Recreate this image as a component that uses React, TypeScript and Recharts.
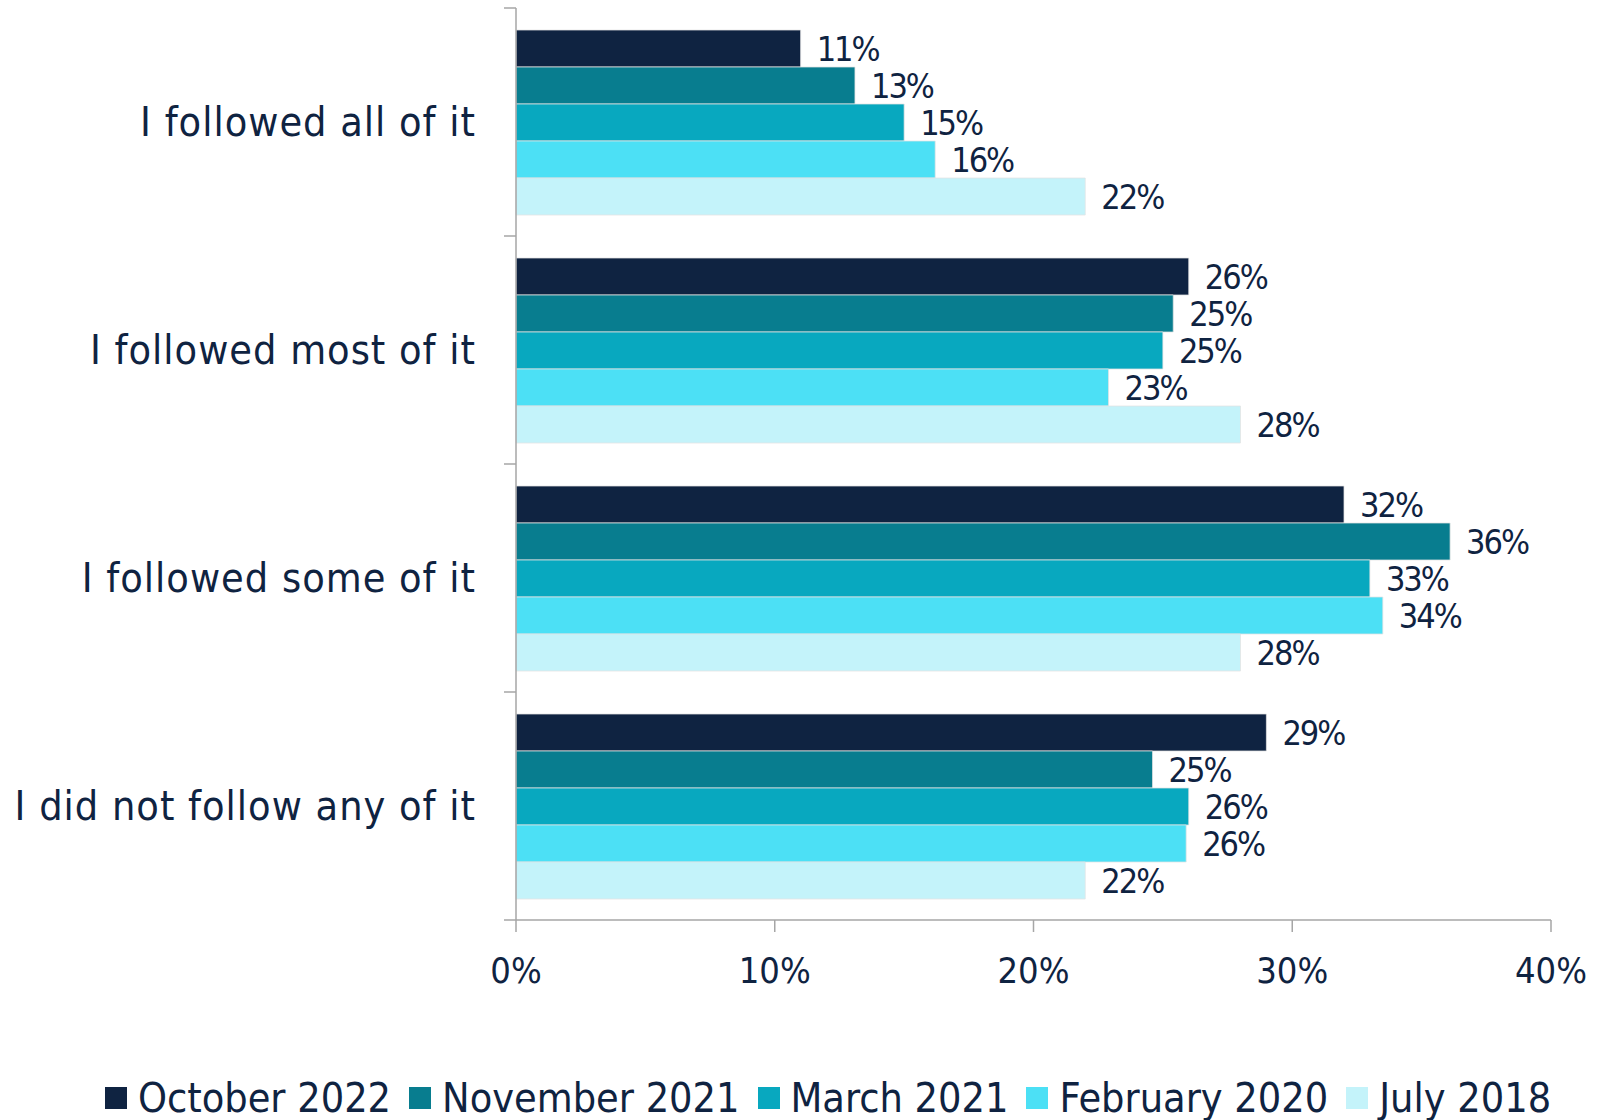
import React from 'react';
import { BarChart, Bar, XAxis, YAxis, LabelList, Legend } from 'recharts';

const categories = [
  'I followed all of it',
  'I followed most of it',
  'I followed some of it',
  'I did not follow any of it',
];
const seriesNames = ['October 2022', 'November 2021', 'March 2021', 'February 2020', 'July 2018'];
const oct2022 = [11, 26, 32, 29];
const nov2021 = [13.1, 25.4, 36.1, 24.6];
const mar2021 = [15, 25, 33, 26];
const feb2020 = [16.2, 22.9, 33.5, 25.9];
const jul2018 = [22, 28, 28, 22];
const xTicks = [0, 10, 20, 30, 40];

const colors = ['#0F2341', '#087D8F', '#08A8BF', '#4CE0F5', '#C4F3FA'];
const TEXT = '#0F2341';
const AXIS = '#A6A6A6';
const FONT = '"DejaVu Sans Condensed", "DejaVu Sans", Lato, sans-serif';

const W = 1602;
const H = 1120;
const MARGIN = { top: 8, right: 51, left: 0, bottom: 0 };
const LEGEND_H = 60;
const XAXIS_H = 140;
const YAXIS_W = 516;
const Y_TICK_MARGIN = 40;

const series = [oct2022, nov2021, mar2021, feb2020, jul2018];
const data = categories.map((name, i) => {
  const row: Record<string, any> = { name };
  seriesNames.forEach((s, j) => {
    row[s] = series[j][i];
  });
  return row;
});

const plotH = H - MARGIN.top - MARGIN.bottom - LEGEND_H - XAXIS_H;
const bandHalf = plotH / categories.length / 2;

const YTick = (props: any) => {
  const { x, y, payload, index, visibleTicksCount } = props;
  const ax = x + Y_TICK_MARGIN;
  return (
    <g>
      <text
        x={x}
        y={y}
        textAnchor="end"
        dominantBaseline="central"
        fill={TEXT}
        fontSize={41}
        letterSpacing={1}
        fontFamily={FONT}
      >
        {payload.value}
      </text>
      <line x1={ax - 12} x2={ax} y1={y - bandHalf} y2={y - bandHalf} stroke={AXIS} strokeWidth={1.5} />
      {index === visibleTicksCount - 1 && (
        <line x1={ax - 12} x2={ax} y1={y + bandHalf} y2={y + bandHalf} stroke={AXIS} strokeWidth={1.5} />
      )}
    </g>
  );
};

const LegendContent = () => (
  <div
    style={{
      display: 'flex',
      justifyContent: 'center',
      alignItems: 'center',
      paddingLeft: 105,
      paddingTop: 16,
      height: LEGEND_H - 16,
      fontFamily: FONT,
      fontSize: 41,
      color: TEXT,
      whiteSpace: 'nowrap',
    }}
  >
    {seriesNames.map((n, i) => (
      <span key={n} style={{ display: 'flex', alignItems: 'center', marginRight: i < seriesNames.length - 1 ? 18 : 0 }}>
        <span style={{ display: 'inline-block', width: 22, height: 22, background: colors[i], marginRight: 11 }} />
        {n}
      </span>
    ))}
  </div>
);

export default function App() {
  return (
    <div style={{ position: 'absolute', left: 0, top: 0, width: W, height: H, background: '#fff' }}>
      <BarChart
        width={W}
        height={H}
        data={data}
        layout="vertical"
        margin={MARGIN}
        barSize={37}
        barGap={0}
      >
        <XAxis
          type="number"
          domain={[0, 40]}
          ticks={xTicks}
          tickFormatter={(v: number) => `${v}%`}
          height={XAXIS_H}
          tickSize={12}
          tickMargin={25}
          stroke={AXIS}
          strokeWidth={1.5}
          tick={{ fill: TEXT, fontSize: 36, fontFamily: FONT }}
          interval={0}
        />
        <YAxis
          type="category"
          dataKey="name"
          width={YAXIS_W}
          tickLine={false}
          tickSize={0}
          tickMargin={Y_TICK_MARGIN}
          stroke={AXIS}
          strokeWidth={1.5}
          tick={<YTick />}
          interval={0}
        />
        <Legend verticalAlign="bottom" height={LEGEND_H} content={<LegendContent />} />
        {seriesNames.map((s, i) => (
          <Bar key={s} dataKey={s} fill={colors[i]} stroke="#E3E3E3" strokeWidth={0.75} isAnimationActive={false}>
            <LabelList
              dataKey={s}
              position="right"
              offset={16}
              formatter={(v: any) => `${Math.round(Number(v))}%`}
              fill={TEXT}
              fontSize={34}
              letterSpacing={-2}
              fontFamily={FONT}
            />
          </Bar>
        ))}
      </BarChart>
    </div>
  );
}
